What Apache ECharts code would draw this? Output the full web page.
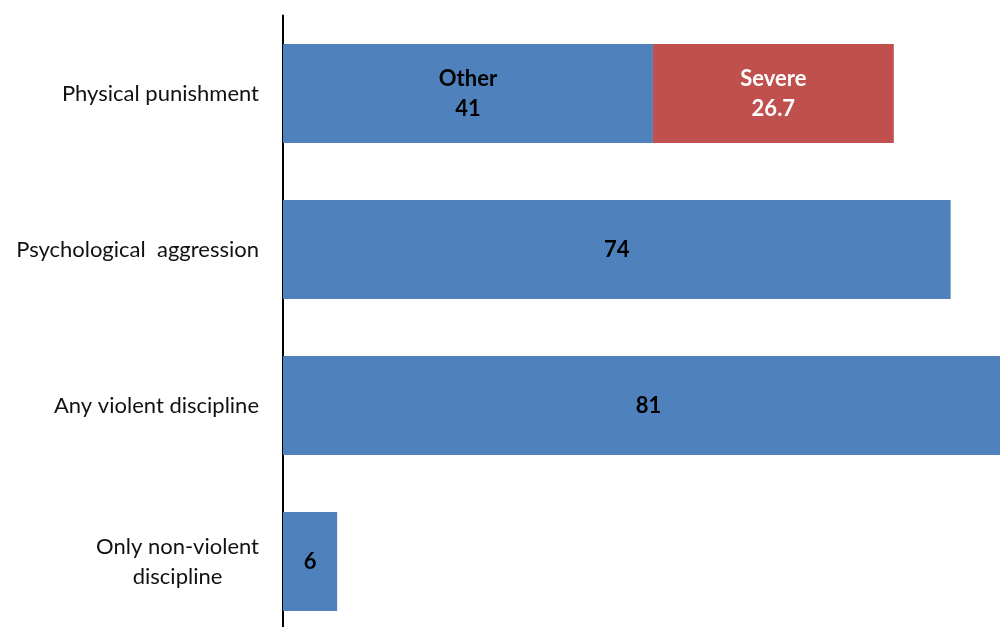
<!DOCTYPE html>
<html>
<head>
<meta charset="utf-8">
<script src="https://cdn.jsdelivr.net/npm/echarts@6/dist/echarts.min.js"></script>
<style>
  html, body { margin: 0; padding: 0; background: #fff; overflow: hidden; }
  #chart { width: 1000px; height: 627px; }
</style>
</head>
<body>
<div id="chart"></div>
<script>
// Categories, top to bottom
const categories = [
  'Physical punishment',
  'Psychological  aggression',
  'Any violent discipline',
  'Only non-violent\ndiscipline'
];
// Blue segment ("Other" for physical punishment, total for the rest)
const otherValues = [41, 74, 81, 6];
// Red segment: severe physical punishment only
const severeValues = [26.7, null, null, null];
// Segment names shown inside the physical punishment bar
const segmentNames = ['Other', 'Severe'];

const chart = echarts.init(document.getElementById('chart'));
const font = 'Lato, "Open Sans", sans-serif';

chart.setOption({
  animation: false,
  // plot area runs past the right and bottom edges of the canvas
  grid: {
    left: 283,
    top: 15.5,
    width: 812,
    height: 624,
    containLabel: false,
    outerBoundsMode: 'none'
  },
  xAxis: {
    type: 'value',
    min: 0,
    max: 90,
    show: false
  },
  yAxis: {
    type: 'category',
    inverse: true,
    data: categories,
    axisLine: { show: true, lineStyle: { color: '#000', width: 2 } },
    axisTick: { show: false },
    axisLabel: {
      margin: 24,
      color: '#111',
      fontFamily: font,
      fontSize: 22,
      lineHeight: 30,
      formatter: function (v) {
        return v.split('\n').map(function (s) { return '{c|' + s + '}'; }).join('\n');
      },
      rich: {
        c: { align: 'center', fontFamily: font, fontSize: 22, lineHeight: 30, color: '#111' }
      }
    }
  },
  series: [
    {
      name: segmentNames[0],
      type: 'bar',
      stack: 'total',
      data: otherValues,
      barCategoryGap: '36.5%',
      itemStyle: { color: '#4F81BD' },
      label: {
        show: true,
        position: 'inside',
        color: '#000',
        fontFamily: font,
        fontWeight: 'bold',
        fontSize: 22,
        lineHeight: 30,
        formatter: function (p) {
          return p.dataIndex === 0 ? segmentNames[0] + '\n' + p.value : String(p.value);
        }
      }
    },
    {
      name: segmentNames[1],
      type: 'bar',
      stack: 'total',
      data: severeValues,
      barCategoryGap: '36.5%',
      itemStyle: { color: '#C0504D' },
      label: {
        show: true,
        position: 'inside',
        color: '#fff',
        fontFamily: font,
        fontWeight: 'bold',
        fontSize: 22,
        lineHeight: 30,
        formatter: function (p) {
          return segmentNames[1] + '\n' + p.value;
        }
      }
    }
  ]
});
</script>
</body>
</html>
